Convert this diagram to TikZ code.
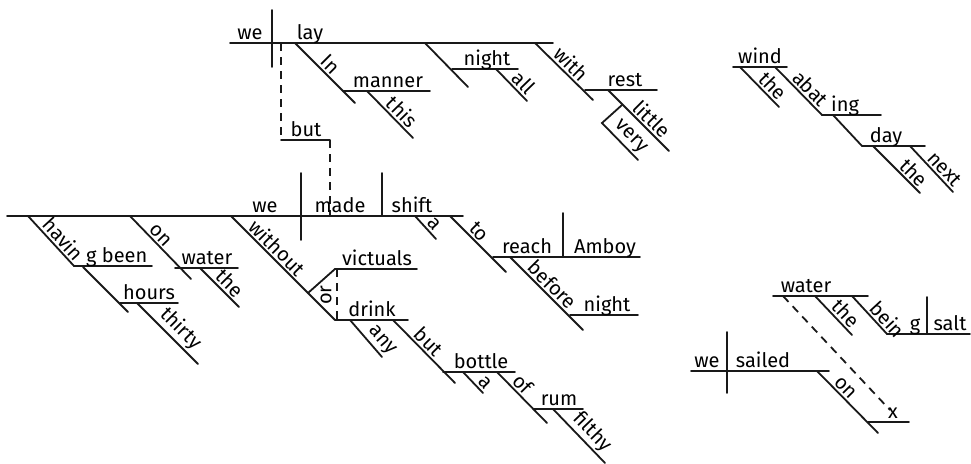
\documentclass[tikz,border=0pt]{standalone}
\usepackage{fontspec}
\setmainfont{Fira Sans}
\usetikzlibrary{positioning}
\tikzset{
    rule/.style={draw=black!90, line width=1.8pt, line cap=round},
    link/.style={draw=black!90, line width=1.8pt, dash pattern=on 8pt off 6pt},
    word/.style={anchor=base, inner sep=0pt, font=\fontsize{20}{23}\selectfont},
    slant/.style={sloped, above=1pt, inner sep=1pt, font=\fontsize{20}{23}\selectfont}
}
\begin{document}
\begin{tikzpicture}[x=1pt, y=-1pt]
        \useasboundingbox (0,0) rectangle (971,463);

        % =================================================================
        % WE LAY ...
        % =================================================================
        \coordinate (lay_l) at (230,43);
        \coordinate (lay_r) at (553,43);
        \draw[rule] (lay_l) -- (lay_r);
        \draw[rule] (272,10) -- (272,67);
        \node[word] (w_we1) at (250,39) {we};
        \node[word] (w_lay) at (310,39) {lay};

        % In manner this
        \draw[rule] (295,43) -- node[slant, pos=0.47] (w_in) {In} (355,103);
        \draw[rule] (343,91) -- (430,91);
        \node[word] (w_manner) at (388,87) {manner};
        \draw[rule] (367,91) -- node[slant, pos=0.6] (w_this) {this} (413,138);

        % night all
        \draw[rule] (425,43) -- (468,87);
        \draw[rule] (452,69) -- (518,69);
        \node[word] (w_night1) at (487,65) {night};
        \draw[rule] (496,69) -- node[slant, pos=0.65] (w_all) {all} (527,101);

        % with rest little very
        \draw[rule] (535,43) -- node[slant, pos=0.5] (w_with) {with} (593,100);
        \draw[rule] (585,90) -- (657,90);
        \node[word] (w_rest) at (625,86) {rest};
        \draw[rule] (608,90) -- node[slant, pos=0.6] (w_little) {little} (669,151);
        \draw[rule] (622,105) -- (602,123) -- node[slant, pos=0.58] (w_very) {very} (638,160);

        % but (dashed link to second clause)
        \draw[link] (281,43) -- (281,140);
        \draw[rule] (281,140) -- (330,140);
        \node[word] (w_but1) at (306,136) {but};
        \draw[link] (330,140) -- (330,216);

        % =================================================================
        % WE MADE SHIFT ...
        % =================================================================
        \coordinate (made_l) at (7,216);
        \coordinate (made_r) at (463,216);
        \draw[rule] (made_l) -- (made_r);
        \draw[rule] (301,173) -- (301,240);
        \draw[rule] (382,173) -- (382,216);
        \node[word] (w_we2) at (265,212) {we};
        \node[word] (w_made) at (340,212) {made};
        \node[word] (w_shift) at (412,212) {shift};

        % having been hours thirty
        \draw[rule] (28,216) -- node[slant, pos=0.6] (w_havin) {havin} (74,266) -- (152,266);
        \node[word, anchor=base west] (w_been) at (86,262) {g been};
        \draw[rule] (83,267) -- (128,312);
        \draw[rule] (120,303) -- (178,303);
        \node[word] (w_hours) at (149,299) {hours};
        \draw[rule] (137,303) -- node[slant, pos=0.57] (w_thirty) {thirty} (198,364);

        % on water the
        \draw[rule] (130,216) -- node[slant, pos=0.4] (w_on1) {on} (191,279);
        \draw[rule] (175,268) -- (238,268);
        \node[word] (w_water1) at (207,264) {water};
        \draw[rule] (200,268) -- node[slant, pos=0.58] (w_the1) {the} (239,307);

        % without victuals or drink
        \draw[rule] (231,216) -- node[slant, pos=0.375] (w_without) {without} (335,320);
        \coordinate (fork) at (308,293);
        \draw[rule] (fork) -- (335,269) -- (417,269);
        \node[word] (w_victuals) at (377,265) {victuals};
        \draw[link] (337,269) -- (337,320);
        \node[word, rotate=90, anchor=center] (w_or) at (326,295) {or};
        \draw[rule] (335,320) -- (408,320);
        \node[word] (w_drink) at (372,316) {drink};
        \draw[rule] (350,320) -- node[slant, pos=0.75] (w_any) {any} (382,357);

        % but bottle a of rum filthy
        \draw[rule] (393,320) -- node[slant, pos=0.46] (w_but2) {but} (455,383);
        \draw[rule] (443,372) -- (515,372);
        \node[word] (w_bottle) at (481,368) {bottle};
        \draw[rule] (463,372) -- node[slant, pos=0.8] (w_a1) {a} (483,393);
        \draw[rule] (497,372) -- node[slant, pos=0.38] (w_of) {of} (547,423);
        \draw[rule] (533,409) -- (583,409);
        \node[word] (w_rum) at (559,405) {rum};
        \draw[rule] (553,409) -- node[slant, pos=0.59] (w_filthy) {filthy} (605,463);

        % a / to reach Amboy before night
        \draw[rule] (415,216) -- node[slant, pos=0.6] (w_a2) {a} (436,239);
        \draw[rule] (450,216) -- node[slant, pos=0.4] (w_to) {to} (506,272);
        \draw[rule] (493,257) -- (640,257);
        \draw[rule] (563,213) -- (563,257);
        \node[word] (w_reach) at (527,253) {reach};
        \node[word] (w_amboy) at (605,253) {Amboy};
        \draw[rule] (510,257) -- node[slant, pos=0.48] (w_before) {before} (583,330);
        \draw[rule] (570,315) -- (638,315);
        \node[word] (w_night2) at (607,311) {night};

        % =================================================================
        % WIND ABATING
        % =================================================================
        \draw[rule] (733,67) -- (787,67);
        \node[word] (w_wind) at (760,63) {wind};
        \draw[rule] (740,67) -- node[slant, pos=0.65] (w_the2) {the} (779,107);
        \draw[rule] (775,67) -- node[slant, pos=0.6] (w_abat) {abat} (822,115) -- (881,115);
        \node[word, anchor=base west] (w_ing) at (831,111) {ing};
        \draw[rule] (833,115) -- (862,146);
        \draw[rule] (862,146) -- (925,146);
        \node[word] (w_day) at (886,142) {day};
        \draw[rule] (873,146) -- node[slant, pos=0.72] (w_the3) {the} (920,193);
        \draw[rule] (910,146) -- node[slant, pos=0.65] (w_next) {next} (953,192);

        % =================================================================
        % WE SAILED ON x / WATER BEING SALT
        % =================================================================
        \draw[rule] (773,296) -- (868,296);
        \node[word] (w_water2) at (806,292) {water};
        \draw[link] (783,296) -- (890,410);
        \draw[rule] (815,296) -- node[slant, pos=0.63] (w_the4) {the} (852,335);
        \draw[rule] (852,296) -- node[slant, pos=0.8] (w_bein) {bein} (887,334) -- (970,334);
        \node[word] (w_g) at (915,330) {g};
        \draw[rule] (927,297) -- (927,334);
        \node[word] (w_salt) at (950,330) {salt};

        \draw[rule] (691,371) -- (829,371);
        \draw[rule] (727,332) -- (727,393);
        \node[word] (w_we3) at (707,367) {we};
        \node[word] (w_sailed) at (763,367) {sailed};
        \draw[rule] (817,371) -- node[slant, pos=0.37] (w_on2) {on} (878,433);
        \draw[rule] (868,422) -- (909,422);
        \node[word] (w_x) at (893,418) {x};

\end{tikzpicture}
\end{document}
